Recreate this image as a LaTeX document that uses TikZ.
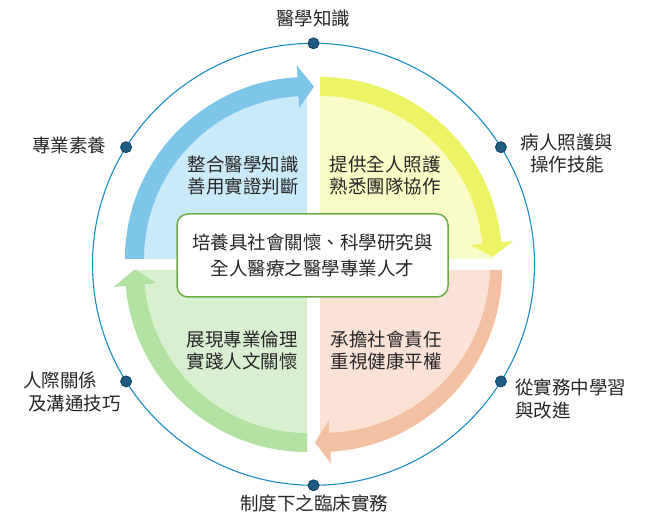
\documentclass[tikz,border=0pt]{standalone}
\usepackage{fontspec}
\setmainfont{Noto Sans CJK TC}
\definecolor{ringblue}{HTML}{1A8CC6}
\definecolor{dotfill}{HTML}{1D5B82}
\definecolor{dotedge}{HTML}{123F5E}
\definecolor{blueA}{HTML}{7DC5E9}
\definecolor{blueL}{HTML}{CBEAF9}
\definecolor{yelA}{HTML}{ECF466}
\definecolor{yelL}{HTML}{F9FCC6}
\definecolor{salA}{HTML}{F3C0A3}
\definecolor{salL}{HTML}{FBE2D6}
\definecolor{grnA}{HTML}{B2E1A2}
\definecolor{grnL}{HTML}{D9F0D0}
\definecolor{boxedge}{HTML}{6DAE48}
\definecolor{txt}{HTML}{262626}
% #1 colour, #2 start angle, #3 head base angle, #4 tip angle
\newcommand{\qarrow}[4]{\fill[#1] (#2:182) arc[start angle=#2,end angle=#3,radius=182] -- (#3:194) -- (#4:172.5) -- (#3:151) -- (#3:163) arc[start angle=#3,end angle=#2,radius=163] -- cycle;}
% tapered variant: inner edge widens from 170 at the tail to 163 at the head
\newcommand{\qarrowtaper}[4]{\fill[#1] (#2:182) arc[start angle=#2,end angle=#3,radius=182] -- (#3:194) -- (#4:172.5) -- (#3:151) -- (#3:163) -- plot[domain=#3:#2, samples=30] (\x:{163+7*(#3-\x)/(#3-#2)}) -- cycle;}
\newcommand{\qpie}[3]{\fill[#1] (0,0) -- (#2:172) arc[start angle=#2,end angle=#3,radius=172] -- cycle;}
\tikzset{
  lbl/.style={text=txt, inner sep=0pt, font=\fontsize{18.5}{22.5}\selectfont, align=center},
  ringdot/.style={circle, fill=dotfill, draw=dotedge, line width=0.8pt, minimum size=11pt, inner sep=0pt},
  ring/.style={draw=ringblue, line width=1.1pt},
  centrebox/.style={draw=boxedge, line width=1.5pt, fill=white, rounded corners=11pt, minimum width=271pt, minimum height=83pt, text=txt, inner sep=0pt, font=\fontsize{18.5}{26}\selectfont, align=center}
}
\begin{document}
\begin{tikzpicture}[x=1pt,y=-1pt]
\useasboundingbox (0,0) rectangle (649,532);
% outer ring
\draw[ring] (313.5,264.3) circle[radius=221];
% quadrants
\begin{scope}[shift={(307,259)}]
  \qpie{blueL}{180}{270}
  \qarrow{blueA}{180}{267}{272.3}
\end{scope}
\begin{scope}[shift={(320,259)}]
  \qpie{yelL}{270}{360}
  \qarrow{yelA}{270}{354.7}{359.3}
\end{scope}
\begin{scope}[shift={(320,270)}]
  \qpie{salL}{0}{90}
  \qarrowtaper{salA}{0}{86.7}{91.7}
\end{scope}
\begin{scope}[shift={(307,270)}]
  \qpie{grnL}{90}{180}
  \qarrow{grnA}{90}{175}{180.2}
\end{scope}
% dots on ring
\begin{scope}[shift={(313.5,264.3)}]
  \node[ringdot] (dT)  at (270:221) {};
  \node[ringdot] (dB)  at (90:221) {};
  \node[ringdot] (dUL) at (212:221) {};
  \node[ringdot] (dUR) at (328:221) {};
  \node[ringdot] (dLL) at (148:221) {};
  \node[ringdot] (dLR) at (32:221) {};
\end{scope}
% centre box
\node[centrebox] (core) at (312.5,255.5) {培養具社會關懷、科學研究與\\全人醫療之醫學專業人才};
% quadrant texts
\node[lbl] (qTL) at (243,175.5) {整合醫學知識\\善用實證判斷};
\node[lbl] (qTR) at (385,175.5) {提供全人照護\\熟悉團隊協作};
\node[lbl] (qBL) at (242,350.5) {展現專業倫理\\實踐人文關懷};
\node[lbl] (qBR) at (386,350.5) {承擔社會責任\\重視健康平權};
% outer labels
\node[lbl] (lT)  at (313,18) {醫學知識};
\node[lbl] (lUL) at (69,145) {專業素養};
\node[lbl] (lUR) at (567,153.5) {病人照護與\\操作技能};
\node[lbl, align=left, anchor=west] (lLL) at (23,392) {人際關係\\\hspace*{5pt}及溝通技巧};
\node[lbl, align=left, anchor=west] (lLR) at (515,399) {從實務中學習\\與改進};
\node[lbl] (lB)  at (314,503) {制度下之臨床實務};
\end{tikzpicture}
\end{document}
